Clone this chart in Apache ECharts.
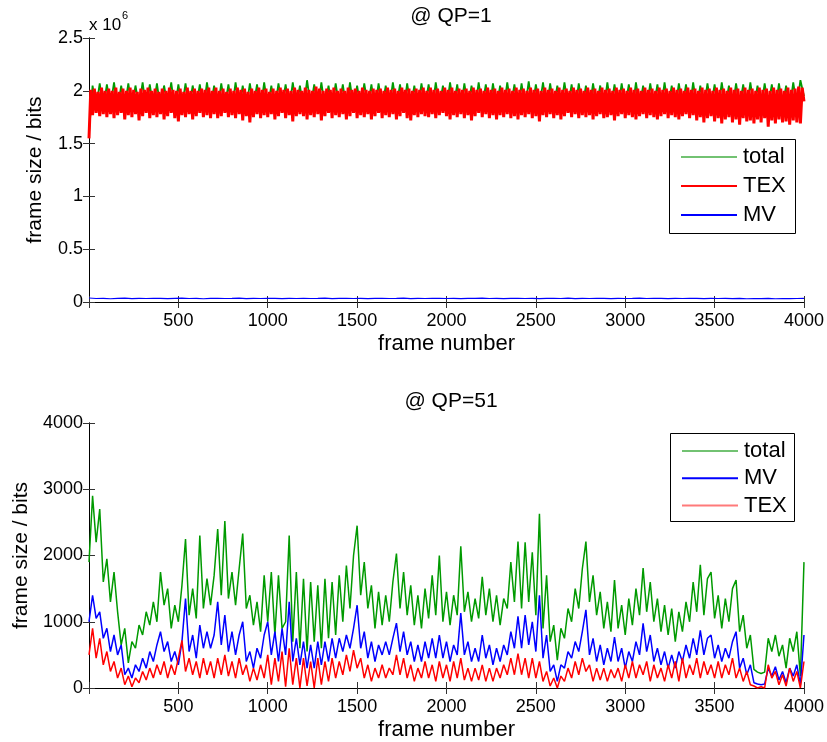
<!DOCTYPE html>
<html>
<head>
<meta charset="utf-8">
<script src="https://cdn.jsdelivr.net/npm/echarts@6/dist/echarts.min.js"></script>
<style>
    html, body {margin: 0; padding: 0; background: #fff;}
    #chart {width: 827px; height: 742px;}
</style>
</head>
<body>
<div id="chart"></div>
<script>
// x axis ticks (frame number)
var frameTicks = [0, 500, 1000, 1500, 2000, 2500, 3000, 3500, 4000];
var qp1Ticks = [0, 0.5, 1, 1.5, 2, 2.5];       // x 10^6 bits
var qp51Ticks = [0, 1000, 2000, 3000, 4000];

// @ QP=1, values in 10^6 bits, TEX read every 10 frames
var qp1Tex = [
    1.55,2.01,1.77,2.02,1.79,1.99,1.76,2.03,1.78,2.00,
    1.75,2.02,1.78,2.00,1.74,2.03,1.77,1.99,1.79,2.02,
    1.73,2.00,1.77,2.03,1.75,2.01,1.78,1.99,1.72,2.02,
    1.76,2.01,1.79,2.03,1.74,2.00,1.77,2.02,1.75,1.99,
    1.78,2.02,1.73,2.00,1.76,2.03,1.79,2.01,1.74,2.00,
    1.71,2.02,1.77,1.99,1.75,2.03,1.78,2.00,1.73,2.02,
    1.76,2.00,1.79,2.02,1.75,2.01,1.77,2.03,1.74,2.00,
    1.78,2.03,1.74,2.00,1.76,2.02,1.79,1.99,1.75,2.02,
    1.77,2.00,1.74,2.03,1.78,2.01,1.72,2.02,1.76,1.99,
    1.70,2.02,1.75,2.00,1.78,2.03,1.74,2.01,1.77,2.02,
    1.75,1.99,1.78,2.02,1.73,2.00,1.76,2.03,1.79,2.01,
    1.74,2.02,1.77,2.00,1.71,2.03,1.76,2.01,1.78,2.00,
    1.76,2.03,1.73,2.01,1.77,2.00,1.75,2.04,1.78,2.02,
    1.72,2.00,1.76,2.02,1.79,2.01,1.74,2.03,1.77,2.00,
    1.75,2.02,1.78,2.00,1.73,2.03,1.76,2.01,1.79,2.02,
    1.74,2.00,1.77,2.03,1.75,2.01,1.78,2.00,1.73,2.02,
    1.76,2.01,1.79,2.02,1.74,2.00,1.77,2.03,1.75,2.01,
    1.78,2.02,1.73,2.00,1.76,2.03,1.79,2.01,1.74,2.02,
    1.72,2.00,1.77,2.02,1.75,2.01,1.78,2.03,1.76,2.00,
    1.75,2.03,1.78,2.01,1.74,2.02,1.77,2.00,1.79,2.03,
    1.76,2.01,1.73,2.03,1.77,2.00,1.75,2.02,1.78,2.01,
    1.74,2.02,1.77,2.00,1.72,2.03,1.76,2.01,1.79,2.02,
    1.75,2.00,1.78,2.03,1.74,2.01,1.77,2.02,1.73,2.00,
    1.77,2.03,1.75,2.01,1.78,2.02,1.74,2.00,1.76,2.03,
    1.73,2.01,1.77,2.02,1.75,2.00,1.78,2.03,1.74,2.01,
    1.76,2.02,1.71,2.00,1.77,2.03,1.75,2.01,1.78,2.02,
    1.74,2.00,1.77,2.03,1.73,2.01,1.76,2.02,1.79,2.00,
    1.75,2.03,1.78,2.01,1.74,2.02,1.77,2.00,1.75,2.03,
    1.77,2.01,1.73,2.02,1.76,2.00,1.78,2.03,1.74,2.01,
    1.75,2.02,1.77,2.00,1.72,2.03,1.76,2.01,1.78,2.02,
    1.74,2.00,1.77,2.03,1.75,2.01,1.73,2.02,1.76,2.00,
    1.78,2.03,1.74,2.01,1.77,2.02,1.75,2.00,1.73,2.03,
    1.76,2.01,1.78,2.02,1.74,2.00,1.77,2.03,1.75,2.01,
    1.73,2.02,1.76,2.00,1.78,2.03,1.74,2.01,1.77,2.02,
    1.72,2.00,1.75,2.03,1.70,2.01,1.74,2.02,1.76,2.00,
    1.71,2.03,1.74,2.01,1.69,2.02,1.73,2.00,1.75,2.03,
    1.70,2.01,1.73,2.02,1.68,2.00,1.74,2.03,1.71,2.01,
    1.72,2.02,1.69,2.00,1.73,2.03,1.70,2.01,1.74,2.02,
    1.66,2.00,1.72,2.03,1.69,2.01,1.73,2.02,1.70,2.00,
    1.71,2.03,1.68,2.01,1.72,2.02,1.70,2.04,1.69,2.03,
    1.90
];
// total read every 20 frames
var qp1Total = [
    1.60,2.05,1.84,2.07,1.83,2.06,1.85,2.08,1.82,2.05,
    1.84,2.07,1.83,2.05,1.85,2.08,1.82,2.06,1.84,2.07,
    1.83,2.05,1.85,2.08,1.82,2.06,1.84,2.07,1.83,2.05,
    1.85,2.06,1.82,2.08,1.84,2.05,1.83,2.07,1.85,2.06,
    1.82,2.08,1.84,2.05,1.83,2.07,1.85,2.06,1.82,2.08,
    1.84,2.05,1.83,2.07,1.85,2.06,1.82,2.08,1.84,2.05,
    1.83,2.10,1.85,2.06,1.82,2.08,1.84,2.05,1.83,2.07,
    1.85,2.06,1.82,2.08,1.84,2.05,1.83,2.07,1.85,2.06,
    1.82,2.07,1.84,2.05,1.83,2.08,1.85,2.06,1.82,2.07,
    1.84,2.05,1.83,2.07,1.85,2.06,1.82,2.08,1.84,2.05,
    1.83,2.08,1.85,2.06,1.82,2.07,1.84,2.05,1.83,2.08,
    1.85,2.06,1.82,2.07,1.84,2.05,1.83,2.08,1.85,2.06,
    1.82,2.07,1.84,2.09,1.83,2.06,1.85,2.08,1.82,2.07,
    1.84,2.05,1.83,2.08,1.85,2.06,1.82,2.07,1.84,2.05,
    1.83,2.07,1.85,2.05,1.82,2.08,1.84,2.06,1.83,2.07,
    1.85,2.06,1.82,2.08,1.84,2.05,1.83,2.07,1.85,2.06,
    1.82,2.08,1.84,2.05,1.83,2.07,1.85,2.06,1.82,2.08,
    1.84,2.05,1.83,2.07,1.85,2.06,1.82,2.08,1.84,2.05,
    1.83,2.07,1.85,2.06,1.82,2.08,1.84,2.05,1.83,2.07,
    1.85,2.06,1.82,2.07,1.84,2.05,1.83,2.08,1.85,2.10,
    1.95
];
// MV read every 40 frames
var qp1Mv = [
    0.038,0.033,0.035,0.031,0.034,0.036,0.032,0.035,0.033,0.034,
    0.035,0.032,0.034,0.036,0.033,0.035,0.031,0.034,0.035,0.033,
    0.034,0.036,0.032,0.035,0.033,0.034,0.035,0.032,0.034,0.033,
    0.035,0.033,0.034,0.036,0.032,0.035,0.034,0.033,0.035,0.032,
    0.034,0.035,0.033,0.034,0.036,0.032,0.035,0.033,0.034,0.035,
    0.033,0.034,0.032,0.035,0.034,0.036,0.033,0.035,0.032,0.034,
    0.035,0.033,0.034,0.032,0.035,0.034,0.033,0.036,0.032,0.034,
    0.033,0.035,0.034,0.032,0.035,0.033,0.034,0.036,0.033,0.035,
    0.034,0.032,0.035,0.033,0.034,0.035,0.032,0.034,0.033,0.035,
    0.032,0.034,0.031,0.033,0.032,0.034,0.031,0.033,0.032,0.033,
    0.034
];

// @ QP=51, bits, read every 20 frames
var qp51Total = [
    1900,2900,2200,2700,1600,1950,1300,1750,1150,650,
    900,380,700,600,950,800,1150,950,1300,1000,
    1750,1250,1500,900,1250,1000,1550,2250,1100,1500,
    1050,2300,1200,1650,1250,1700,2400,1400,2520,1350,
    1750,1250,1800,2330,1200,1400,950,1300,850,1700,
    1000,1750,800,1700,900,1000,2300,700,1750,600,
    1650,550,1600,700,1550,600,1650,750,1600,800,
    1700,1000,1850,1200,2000,2450,1400,1900,1200,1550,
    900,1450,950,1400,1000,1600,2030,1200,1750,1100,
    1550,950,1400,900,1500,1050,1700,1100,2000,1000,
    1450,950,1400,1100,2140,1150,1450,1000,1350,1050,
    1680,1100,1500,1000,1400,950,1350,1200,1900,1300,
    2210,1200,2200,1300,2050,1100,2630,900,1700,700,
    950,420,900,750,1200,1000,1500,1200,1800,2210,
    1300,1700,1100,1450,900,1300,850,1630,900,1250,
    800,1350,950,1500,1100,1810,1150,1600,1000,1350,
    850,1250,800,1200,700,1150,850,1300,1000,1600,
    1150,1860,1100,1650,1750,1050,1400,900,1350,1000,
    1500,1630,850,1100,600,800,280,240,220,240,
    750,550,800,480,650,300,750,550,850,180,
    1900
];
var qp51Mv = [
    1000,1400,1050,1150,750,900,550,800,500,650,
    200,300,150,350,250,450,300,550,400,650,
    850,550,700,400,550,350,700,1350,550,800,
    450,950,600,850,600,800,1300,650,1100,550,
    850,500,800,1000,400,550,300,600,450,800,
    1000,500,850,400,900,500,1300,400,750,350,
    700,300,650,300,700,350,700,400,750,450,
    750,550,800,600,900,1250,600,850,450,700,
    400,650,500,700,500,750,980,550,850,500,
    700,400,650,400,700,450,750,450,800,450,
    700,400,650,500,1130,500,700,400,600,400,
    800,450,650,350,600,400,650,500,850,600,
    1080,600,1100,650,1000,550,1400,450,800,250,
    350,100,350,300,550,450,700,550,850,1180,
    500,750,400,650,350,600,400,770,400,600,
    300,550,400,700,500,975,550,800,400,600,
    350,550,300,500,300,550,400,650,450,750,
    500,870,500,750,800,450,650,400,600,450,
    700,850,300,450,200,350,80,60,50,60,
    300,180,320,120,250,80,300,180,350,50,
    800
];
var qp51Tex = [
    500,900,450,750,350,550,250,400,150,300,
    50,180,20,150,80,250,120,300,150,350,
    200,400,150,350,200,450,720,250,450,200,
    400,150,450,200,400,150,450,200,500,180,
    400,150,450,200,350,100,300,120,350,150,
    500,50,450,100,550,20,600,50,450,0,
    450,30,400,0,450,50,400,100,450,150,
    400,200,500,250,570,300,450,150,350,100,
    300,150,350,150,300,200,500,200,450,150,
    350,100,300,150,400,150,350,100,400,150,
    350,100,400,150,450,120,300,100,300,120,
    350,100,300,100,300,150,350,200,450,200,
    520,200,450,150,450,150,400,100,250,30,
    150,0,180,100,300,150,400,200,450,250,
    350,100,300,120,300,100,280,150,300,100,
    350,150,400,150,350,200,400,100,350,150,
    300,100,350,150,400,100,450,150,350,200,
    450,150,400,200,350,150,400,150,350,200,
    450,150,300,100,250,50,30,0,20,0,
    350,150,250,50,200,30,300,100,250,0,
    400
];

var FONT = '"Liberation Sans", Arial, Helvetica, sans-serif';
var GREEN = '#009a00', RED = '#ff0000', BLUE = '#0000ff';

function toPairs(vals, step) {
    return vals.map(function (v, i) { return [i * step, v]; });
}

function mainX(grid, ticks) {
    return {
        gridIndex: grid, type: 'value', position: 'bottom',
        min: ticks[0], max: ticks[ticks.length - 1], interval: ticks[1] - ticks[0],
        name: 'frame number', nameLocation: 'middle', nameGap: 31,
        nameTextStyle: {fontFamily: FONT, fontSize: 22, color: '#000'},
        axisLine: {lineStyle: {color: '#000', width: 1}},
        axisTick: {inside: true, length: 6, lineStyle: {color: '#333'}},
        axisLabel: {
            fontFamily: FONT, fontSize: 18, color: '#000', margin: 10,
            formatter: function (v) { return v === 0 ? '' : String(v); }
        },
        splitLine: {show: false}
    };
}
function boxX(grid, ticks) {
    return {
        gridIndex: grid, type: 'value', position: 'top',
        min: ticks[0], max: ticks[ticks.length - 1], interval: ticks[1] - ticks[0],
        axisLine: {lineStyle: {color: '#000', width: 1}},
        axisTick: {inside: true, length: 6, lineStyle: {color: '#333'}},
        axisLabel: {show: false},
        splitLine: {show: false}
    };
}
function mainY(grid, ticks) {
    return {
        gridIndex: grid, type: 'value', position: 'left',
        min: ticks[0], max: ticks[ticks.length - 1], interval: ticks[1] - ticks[0],
        name: 'frame size / bits', nameLocation: 'middle', nameGap: 43,
        nameTextStyle: {fontFamily: FONT, fontSize: 21, color: '#000'},
        axisLine: {lineStyle: {color: '#000', width: 1}},
        axisTick: {inside: true, length: 6, lineStyle: {color: '#333'}},
        axisLabel: {
            fontFamily: FONT, fontSize: 18, color: '#000', margin: 6,
            formatter: function (v) { return String(v); }
        },
        splitLine: {show: false}
    };
}
function boxY(grid, ticks) {
    return {
        gridIndex: grid, type: 'value', position: 'right',
        min: ticks[0], max: ticks[ticks.length - 1], interval: ticks[1] - ticks[0],
        axisLine: {lineStyle: {color: '#000', width: 1}},
        axisTick: {inside: true, length: 6, lineStyle: {color: '#333'}},
        axisLabel: {show: false},
        splitLine: {show: false}
    };
}
function line(name, vals, step, axis, color, width) {
    return {
        name: name, type: 'line', xAxisIndex: axis, yAxisIndex: axis,
        data: toPairs(vals, step), symbol: 'none', silent: true,
        lineStyle: {color: color, width: width}, itemStyle: {color: color}
    };
}
// legend box drawn as graphic: x, y of box, row spacing, [name, colour] rows
function legendBox(x, y, w, h, first, step, rows) {
    var els = [{
        type: 'rect', z: 100,
        shape: {x: x + 0.5, y: y + 0.5, width: w, height: h},
        style: {fill: '#fff', stroke: '#000', lineWidth: 1}
    }];
    rows.forEach(function (r, i) {
        var cy = y + first + i * step;
        els.push({
            type: 'line', z: 101,
            shape: {x1: x + 12, y1: cy, x2: x + 68, y2: cy},
            style: {stroke: r[1], lineWidth: 2}
        });
        els.push({
            type: 'text', z: 101, x: x + 74, y: cy,
            style: {text: r[0], font: '22px ' + FONT, fill: '#000',
                align: 'left', verticalAlign: 'middle', textAlign: 'left', textVerticalAlign: 'middle'}
        });
    });
    return els;
}

var myChart = echarts.init(document.getElementById('chart'));
var option = {
    animation: false,
    backgroundColor: '#fff',
    title: [
        {text: '@ QP=1', left: 446, top: 1, textAlign: 'center',
            textStyle: {fontFamily: FONT, fontSize: 21, fontWeight: 'normal', color: '#000'}},
        {text: '@ QP=51', left: 446, top: 386, textAlign: 'center',
            textStyle: {fontFamily: FONT, fontSize: 21, fontWeight: 'normal', color: '#000'}}
    ],
    grid: [
        {left: 89, top: 38, width: 715, height: 264},
        {left: 89, top: 423, width: 715, height: 265}
    ],
    xAxis: [mainX(0, frameTicks), boxX(0, frameTicks), mainX(1, frameTicks), boxX(1, frameTicks)],
    yAxis: [mainY(0, qp1Ticks), boxY(0, qp1Ticks), mainY(1, qp51Ticks), boxY(1, qp51Ticks)],
    graphic: [
        {type: 'text', left: 89, top: 17, style: {text: 'x 10', font: '17px ' + FONT, fill: '#000'}},
        {type: 'text', left: 122, top: 10, style: {text: '6', font: '11px ' + FONT, fill: '#000'}}
    ].concat(
        legendBox(669, 139, 126, 94, 18, 29, [['total', '#72c272'], ['TEX', RED], ['MV', BLUE]]),
        legendBox(670, 433, 124, 88, 18, 27.3, [['total', '#72c272'], ['MV', BLUE], ['TEX', '#ff7a7a']])
    ),
    series: [
        line('total', qp1Total, 20, 0, GREEN, 1.8),
        line('TEX', qp1Tex, 10, 0, RED, 3),
        line('MV', qp1Mv, 40, 0, BLUE, 1.2),
        line('total', qp51Total, 20, 2, GREEN, 1.5),
        line('MV', qp51Mv, 20, 2, BLUE, 1.5),
        line('TEX', qp51Tex, 20, 2, RED, 1.5)
    ]
};
myChart.setOption(option);
</script>
</body>
</html>
